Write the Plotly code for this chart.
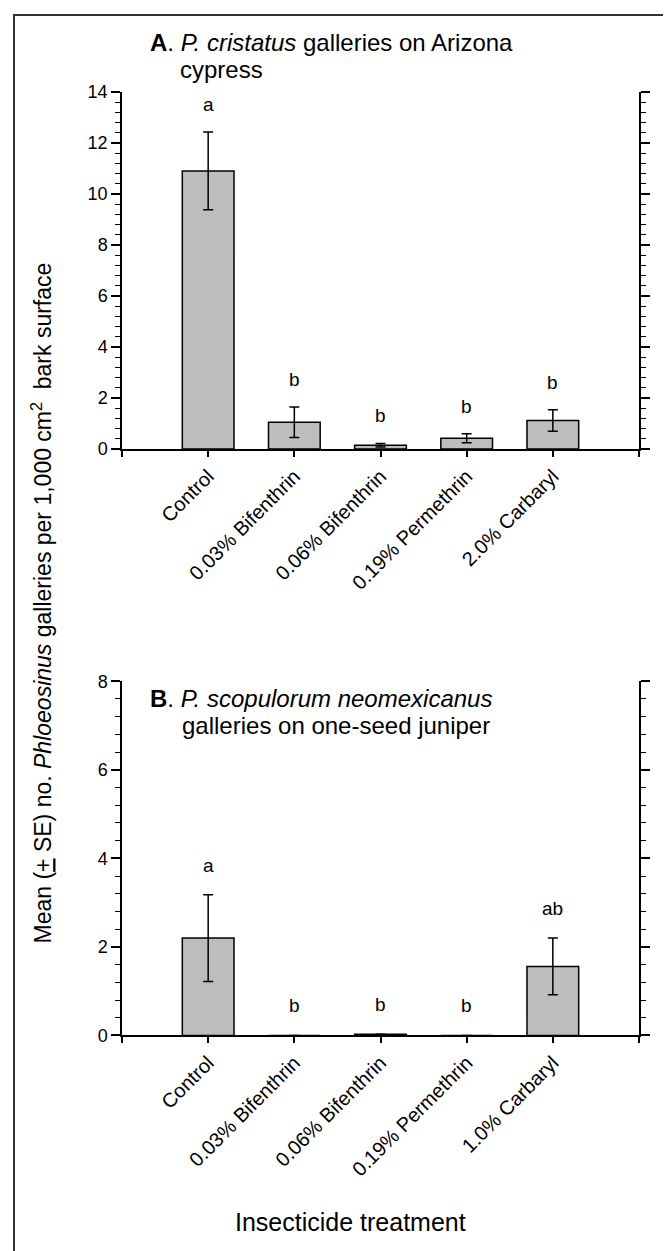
import plotly.graph_objects as go

# ---------------- data ----------------
categories_a = ["Control", "0.03% Bifenthrin", "0.06% Bifenthrin", "0.19% Permethrin", "2.0% Carbaryl"]
means_a = [10.9, 1.05, 0.15, 0.42, 1.12]
se_a = [1.52, 0.60, 0.07, 0.18, 0.42]
letters_a = ["a", "b", "b", "b", "b"]

categories_b = ["Control", "0.03% Bifenthrin", "0.06% Bifenthrin", "0.19% Permethrin", "1.0% Carbaryl"]
means_b = [2.2, 0.0, 0.03, 0.0, 1.56]
se_b = [0.98, 0.0, 0.0, 0.0, 0.64]
letters_b = ["a", "b", "b", "b", "ab"]

yticks_a = [0, 2, 4, 6, 8, 10, 12, 14]
yticks_b = [0, 2, 4, 6, 8]

# ---------------- layout helpers ----------------
W, H = 671, 1251
OFF = 8  # default page body margin in the written html
FONT = "Liberation Sans, Arial, sans-serif"


def px(x):
    return (x - OFF) / W


def py(y):
    return 1 - (y - OFF) / H


BAR_FILL = "#bdbdbd"

fig = go.Figure()

fig.add_trace(go.Bar(
    x=list(range(len(categories_a))), y=means_a,
    error_y=dict(type="data", array=se_a, color="black", thickness=1.5, width=5),
    marker=dict(color=BAR_FILL, line=dict(color="black", width=1.5)),
    width=0.6, xaxis="x", yaxis="y", showlegend=False,
))
fig.add_trace(go.Bar(
    x=list(range(len(categories_b))), y=means_b,
    error_y=dict(type="data", array=se_b, color="black", thickness=1.5, width=5),
    marker=dict(color=BAR_FILL, line=dict(color="black", width=1.5)),
    width=0.6, xaxis="x2", yaxis="y2", showlegend=False,
))


def xaxis_cfg(cats):
    return dict(
        domain=[px(122), px(639)], range=[-1, len(cats)],
        tickmode="array", tickvals=list(range(len(cats))),
        ticktext=cats, tickangle=-45,
        ticks="outside", ticklen=6, tickwidth=1.5, tickcolor="black",
        minor=dict(dtick=1, tick0=0, ticks="outside", ticklen=6, tickwidth=1.5, tickcolor="black", showgrid=False),
        showline=True, linecolor="black", linewidth=1.5,
        showgrid=False, zeroline=False,
        tickfont=dict(family=FONT, size=20, color="black"),
    )


def yaxis_cfg(top, bottom, rng, ticks):
    return dict(
        domain=[py(bottom), py(top)], range=rng,
        tickmode="array", tickvals=ticks,
        ticks="outside", ticklen=9, tickwidth=1.5, tickcolor="black",
        minor=dict(dtick=0.4, tick0=0, ticks="outside", ticklen=5, tickwidth=1.2, tickcolor="black", showgrid=False),
        showline=True, linecolor="black", linewidth=1.5, mirror="ticks",
        showgrid=False, zeroline=False,
        tickfont=dict(family=FONT, size=18, color="black"),
    )


fig.update_layout(
    width=W, height=H,
    margin=dict(l=0, r=0, t=0, b=0),
    paper_bgcolor="white", plot_bgcolor="white",
    xaxis=dict(anchor="y", **xaxis_cfg(categories_a)),
    yaxis=dict(anchor="x", **yaxis_cfg(83, 446, [0, 14], yticks_a)),
    xaxis2=dict(anchor="y2", **xaxis_cfg(categories_b)),
    yaxis2=dict(anchor="x2", **yaxis_cfg(682, 1042, [0, 8], yticks_b)),
    font=dict(family=FONT, color="black"),
)

annotations = []
# significance letters
LF = dict(family=FONT, size=19, color="black")
for i, (m, s, t) in enumerate(zip(means_a, se_a, letters_a)):
    annotations.append(dict(x=i, y=m + s, xref="x", yref="y", text=t, showarrow=False,
                            yanchor="bottom", yshift=15, font=LF))
for i, (m, s, t) in enumerate(zip(means_b, se_b, letters_b)):
    annotations.append(dict(x=i, y=m + s, xref="x2", yref="y2", text=t, showarrow=False,
                            yanchor="bottom", yshift=17, font=LF))

TF = dict(family=FONT, size=24, color="black")
annotations += [
    dict(x=px(148), y=py(33), xref="paper", yref="paper", xanchor="left", yanchor="middle",
         text="<b>A</b>. <i>P. cristatus</i> galleries on Arizona", showarrow=False, font=TF),
    dict(x=px(178), y=py(60), xref="paper", yref="paper", xanchor="left", yanchor="middle",
         text="cypress", showarrow=False, font=TF),
    dict(x=px(148), y=py(700), xref="paper", yref="paper", xanchor="left", yanchor="middle",
         text="<b>B</b>. <i>P. scopulorum neomexicanus</i>", showarrow=False, font=TF),
    dict(x=px(180), y=py(727), xref="paper", yref="paper", xanchor="left", yanchor="middle",
         text="galleries on one-seed juniper", showarrow=False, font=TF),
    dict(x=px(42), y=py(603), xref="paper", yref="paper", xanchor="center", yanchor="middle",
         textangle=-90, showarrow=False, font=dict(family=FONT, size=23, color="black"),
         text="Mean (<u>+</u> SE) no. <i>Phloeosinus</i> galleries per 1,000 cm<sup>2</sup>  bark surface"),
    dict(x=px(351), y=py(1232), xref="paper", yref="paper", xanchor="center", yanchor="middle",
         text="Insecticide treatment", showarrow=False, font=dict(family=FONT, size=25, color="black")),
]
fig.update_layout(annotations=annotations)

# outer frame
fig.add_shape(type="rect", xref="paper", yref="paper",
              x0=px(14), x1=px(667), y0=-0.02, y1=py(5),
              line=dict(color="#333333", width=2), fillcolor="rgba(0,0,0,0)")

fig.write_html("out.html")
